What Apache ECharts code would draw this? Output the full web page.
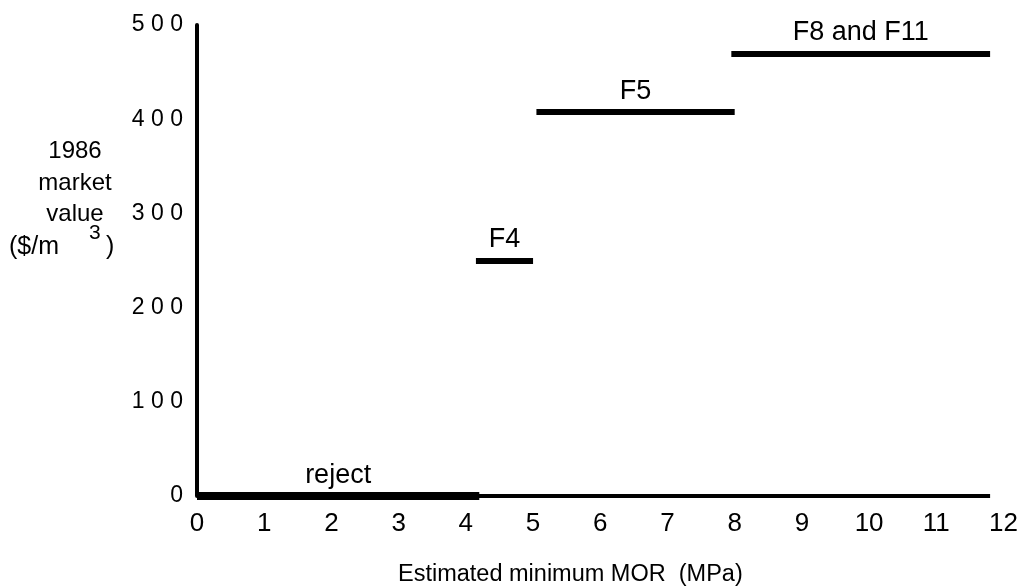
<!DOCTYPE html>
<html>
<head>
<meta charset="utf-8">
<script src="https://cdn.jsdelivr.net/npm/echarts@6/dist/echarts.min.js"></script>
<style>html,body{margin:0;padding:0;background:#fff}#c{width:1021px;height:588px}</style>
</head>
<body>
<div id="c"></div>
<script>
// Data
const segmentNames = ['reject', 'F4', 'F5', 'F8 and F11'];
const segmentStart = [0, 4.15, 5.05, 7.95];
const segmentEnd = [4.2, 5.0, 8.0, 11.8];
const segmentValue = [0, 250, 408, 470];
const xAxisEnd = 11.8;
const xTicks = [0,1,2,3,4,5,6,7,8,9,10,11,12];
const yTicks = [0,100,200,300,400,500];

const FONT = '"Liberation Sans", Arial, Helvetica, sans-serif';
const chart = echarts.init(document.getElementById('c'), null, {renderer: 'canvas'});

const segLines = segmentNames.map((n, i) => [
  {coord: [segmentStart[i], segmentValue[i]], name: n,
   lineStyle: {width: i === 0 ? 8 : 6}},
  {coord: [segmentEnd[i], segmentValue[i]]}
]);

chart.setOption({
  animation: false,
  backgroundColor: '#fff',
  grid: {left: 197, right: 16, top: 25, bottom: 92},
  xAxis: {
    type: 'value', min: xTicks[0], max: xTicks[xTicks.length-1], interval: 1,
    axisLine: {show: false}, axisTick: {show: false}, splitLine: {show: false},
    axisLabel: {color: '#000', fontSize: 26, fontFamily: FONT, margin: 15}
  },
  yAxis: {
    type: 'value', min: yTicks[0], max: yTicks[yTicks.length-1], interval: 100,
    axisLine: {show: true, lineStyle: {color: '#000', width: 4}},
    axisTick: {show: false}, splitLine: {show: false},
    axisLabel: {color: '#000', fontSize: 23, fontFamily: FONT, margin: 14,
      formatter: v => String(v).split('').join(' ')}
  },
  series: [
    {
      type: 'line', data: [], silent: true,
      markLine: {
        silent: true, symbol: ['none', 'none'], animation: false,
        lineStyle: {color: '#000', width: 4, type: 'solid'},
        label: {show: false},
        data: [[{coord: [0, 0]}, {coord: [xAxisEnd, 0]}]]
      }
    },
    {
      type: 'line', data: [], silent: true,
      markLine: {
        silent: true, symbol: ['none', 'none'], animation: false,
        lineStyle: {color: '#000', width: 6, type: 'solid'},
        label: {show: true, position: 'middle', formatter: p => p.name,
          color: '#000', fontSize: 27, fontFamily: FONT, distance: 7},
        data: segLines
      }
    }
  ],
  graphic: [
    {
      type: 'text', x: 75, y: 136,
      style: {text: '1986\nmarket\nvalue', textAlign: 'center', fill: '#000',
        font: '24px ' + FONT, lineHeight: 31.5}
    },
    {
      type: 'text', x: 9, y: 247,
      style: {text: '($/m', textVerticalAlign: 'middle', fill: '#000', font: '25px ' + FONT}
    },
    {
      type: 'text', x: 89, y: 233,
      style: {text: '3', textVerticalAlign: 'middle', fill: '#000', font: '21px ' + FONT}
    },
    {
      type: 'text', x: 106, y: 247,
      style: {text: ')', textVerticalAlign: 'middle', fill: '#000', font: '25px ' + FONT}
    },
    {
      type: 'text', x: 398, y: 575,
      style: {text: 'Estimated minimum MOR  (MPa)', textVerticalAlign: 'middle', fill: '#000', font: '23.5px ' + FONT}
    }
  ]
});
</script>
</body>
</html>
